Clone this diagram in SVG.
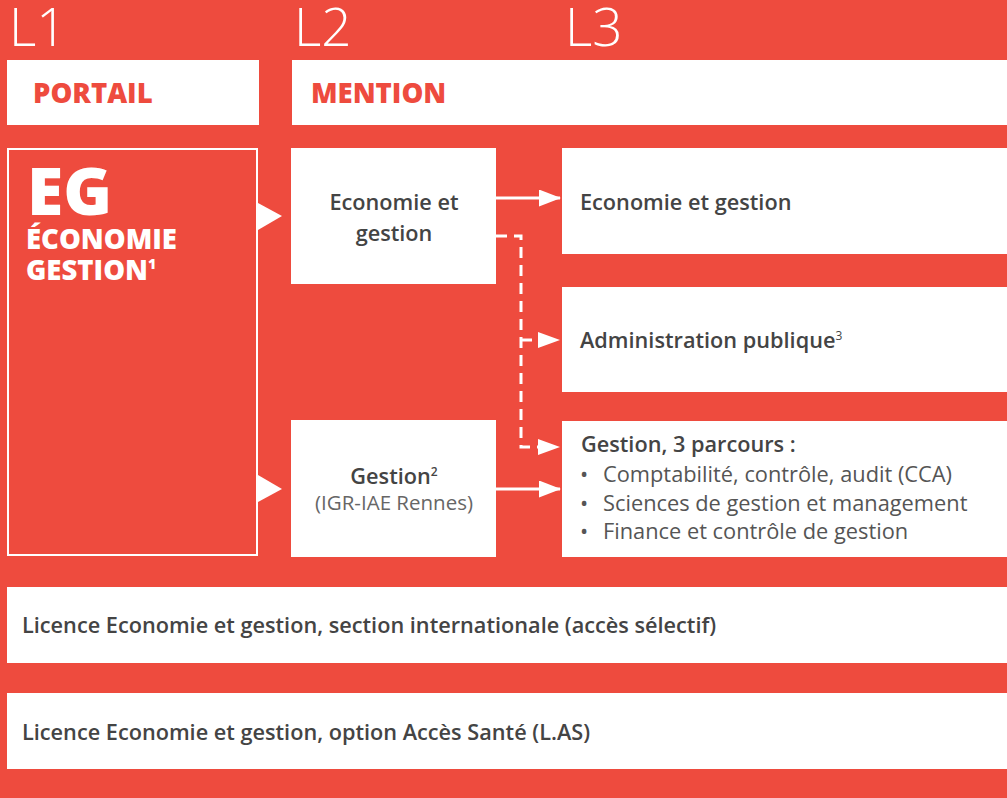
<svg xmlns="http://www.w3.org/2000/svg" width="1007" height="798" viewBox="0 0 1007 798">
<style>
text{font-family:"Open Sans","Noto Sans","Liberation Sans",sans-serif}
.box{fill:#fff}
.lvl{fill:#fff;font-size:53px;font-weight:300}
.hdr{fill:#EE4B3E;font-size:27.5px;font-weight:800}
.t{fill:#444;font-size:21.7px;font-weight:600}
.r{fill:#555;font-size:21.8px;font-weight:400}
.c{text-anchor:middle}
.w{fill:#fff;font-weight:800}
.ln{stroke:#fff;stroke-width:3;fill:none}
.dash{stroke:#fff;stroke-width:3;fill:none;stroke-dasharray:11 7}
.ah{fill:#fff}
</style>
<defs>
<marker id="arr" markerWidth="22" markerHeight="17" refX="21" refY="8.5" orient="auto" markerUnits="userSpaceOnUse">
<path d="M0,0 L22,8.5 L0,17 Z" fill="#fff"/>
</marker>
</defs>
<rect width="1007" height="798" fill="#EE4B3E"/>

<g id="levels">
<text class="lvl" x="9" y="46">L1</text>
<text class="lvl" x="294" y="46">L2</text>
<text class="lvl" x="565" y="46">L3</text>
</g>

<g id="header-portail">
<rect class="box" x="7" y="60" width="252" height="65"/>
<text class="hdr" x="33" y="103">PORTAIL</text>
</g>
<g id="header-mention">
<rect class="box" x="292" y="60" width="715" height="65"/>
<text class="hdr" x="311" y="103">MENTION</text>
</g>

<g id="node-eg">
<rect x="8" y="149" width="249" height="406" fill="none" stroke="#fff" stroke-width="2"/>
<text class="w" x="27" y="215" font-size="66">EG</text>
<text class="w" x="26" y="249" font-size="27.5">ÉCONOMIE</text>
<text class="w" x="26" y="280" font-size="27.5">GESTION<tspan font-size="14" dy="-11">1</tspan></text>
</g>

<g id="node-l2-eco">
<rect class="box" x="291" y="148" width="205" height="136"/>
<text class="t c" x="394" y="210">Economie et</text>
<text class="t c" x="394" y="241">gestion</text>
</g>

<g id="node-l2-gestion">
<rect class="box" x="291" y="420" width="205" height="137"/>
<text class="t c" x="394" y="484" font-size="20">Gestion<tspan font-size="12" dy="-8">2</tspan></text>
<text class="r c" x="394" y="510" style="fill:#666;font-size:20.5px">(IGR-IAE Rennes)</text>
</g>

<g id="node-l3-eco">
<rect class="box" x="562" y="148" width="445" height="106"/>
<text class="t" x="580" y="210">Economie et gestion</text>
</g>

<g id="node-l3-admin">
<rect class="box" x="562" y="287" width="445" height="105"/>
<text class="t" x="580" y="348">Administration publique<tspan font-size="12" dy="-8" font-weight="400">3</tspan></text>
</g>

<g id="node-l3-gestion">
<rect class="box" x="562" y="421" width="445" height="136"/>
<text class="t" x="581" y="452">Gestion, 3 parcours :</text>
<text class="r" x="580" y="482">•</text>
<text class="r" x="603" y="482">Comptabilité, contrôle, audit (CCA)</text>
<text class="r" x="580" y="511">•</text>
<text class="r" x="603" y="511">Sciences de gestion et management</text>
<text class="r" x="580" y="539">•</text>
<text class="r" x="603" y="539">Finance et contrôle de gestion</text>
</g>

<g id="node-international">
<rect class="box" x="7" y="587" width="1000" height="76"/>
<text class="t" x="22" y="633" font-size="21.5">Licence Economie et gestion, section internationale (accès sélectif)</text>
</g>

<g id="node-las">
<rect class="box" x="7" y="693" width="1000" height="76"/>
<text class="t" x="22" y="740" font-size="21.5">Licence Economie et gestion, option Accès Santé (L.AS)</text>
</g>

<g id="connectors">
<path class="ah" d="M258,203 L282,216 L258,230 Z"/>
<path class="ah" d="M258,475 L282,489 L258,502 Z"/>
<path class="ln" d="M496,198 H560" marker-end="url(#arr)"/>
<path class="ln" d="M496,489 H560" marker-end="url(#arr)"/>
<path class="dash" d="M496,236 H521 V447 H540"/>
<path class="ah" d="M538,439 L560,447 L538,455 Z"/>
<path class="dash" d="M521,340 H540"/>
<path class="ah" d="M538,332 L560,340 L538,348 Z"/>
</g>
</svg>
